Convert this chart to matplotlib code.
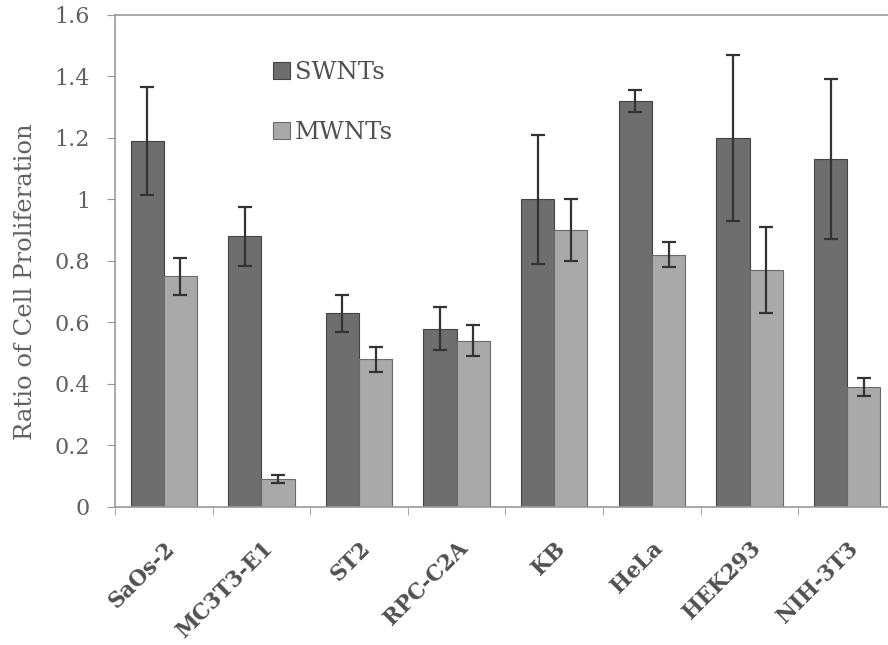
import numpy as np
import matplotlib
matplotlib.use("Agg")
from matplotlib import pyplot as plt

cells = ["SaOs-2", "MC3T3-E1", "ST2", "RPC-C2A", "KB", "HeLa", "HEK293", "NIH-3T3"]
swnt = [1.19, 0.88, 0.63, 0.58, 1.00, 1.32, 1.20, 1.13]
swnt_err = [0.175, 0.095, 0.06, 0.07, 0.21, 0.035, 0.27, 0.26]
mwnt = [0.75, 0.09, 0.48, 0.54, 0.90, 0.82, 0.77, 0.39]
mwnt_err = [0.06, 0.013, 0.04, 0.05, 0.10, 0.04, 0.14, 0.03]
yticks = [0, 0.2, 0.4, 0.6, 0.8, 1, 1.2, 1.4, 1.6]
ytick_labels = ["0", "0.2", "0.4", "0.6", "0.8", "1", "1.2", "1.4", "1.6"]

plt.rcParams['font.family'] = ['DejaVu Serif']
txt = '#505050'
spine = '#9a9a9a'

fig = plt.figure(figsize=(8.88, 6.45), dpi=100)
ax = fig.add_axes([0.1295, 0.214, 0.8795, 0.763])

x = np.arange(len(cells))
w = 0.34
ekw = dict(ecolor='#333333', elinewidth=1.6, capsize=5, capthick=1.6)
ax.bar(x - w/2, swnt, w, yerr=swnt_err, color='#6e6e6e', edgecolor='#444444',
       linewidth=0.8, error_kw=ekw, label='SWNTs')
ax.bar(x + w/2, mwnt, w, yerr=mwnt_err, color='#a9a9a9', edgecolor='#6a6a6a',
       linewidth=0.8, error_kw=ekw, label='MWNTs')

ax.set_xlim(-0.5, len(cells) - 0.5)
ax.set_ylim(0, 1.6)
ax.set_yticks(yticks)
ax.set_yticklabels(ytick_labels, fontsize=16, color='#606060')
ax.set_xticks(x)
ax.set_xticklabels(cells, rotation=45, ha='right', rotation_mode='anchor',
                   fontsize=15.5, fontweight='bold', color=txt)
ax.set_xticks(np.arange(len(cells) + 1) - 0.5, minor=True)
ax.tick_params(axis='x', which='major', length=0, pad=22)
ax.tick_params(axis='x', which='minor', length=6, color=spine, direction='out')
ax.tick_params(axis='y', length=6, color=spine, direction='out', pad=12)

for s in ['left', 'bottom', 'top', 'right']:
    ax.spines[s].set_color(spine)
    ax.spines[s].set_linewidth(1.2)

ax.set_ylabel("Ratio of Cell Proliferation", fontsize=17.5, color='#606060')
ax.yaxis.set_label_coords(-0.1, 0.457)

leg = ax.legend(loc='upper left', bbox_to_anchor=(0.19, 0.925), frameon=False,
                fontsize=17.5, labelspacing=1.5, handlelength=0.7, handleheight=0.7,
                handletextpad=0.2, borderaxespad=0)
for t in leg.get_texts():
    t.set_color(txt)

fig.savefig("out.png", dpi=100)
